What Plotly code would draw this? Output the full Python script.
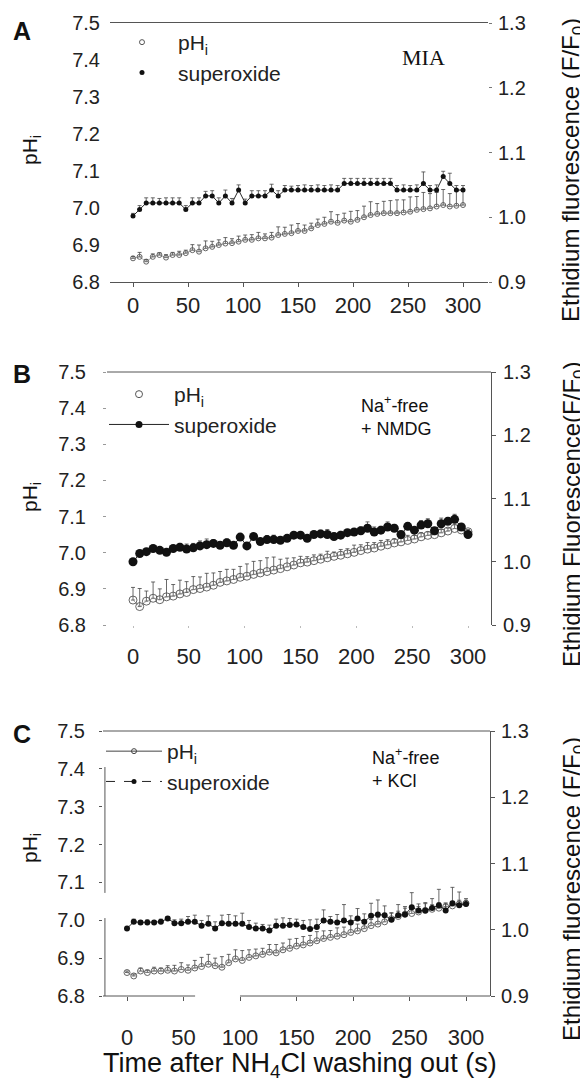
import plotly.graph_objects as go

# ---------------- data ----------------
T = [0, 6, 12, 18, 24, 30, 36, 42, 48, 54, 60, 66, 72, 78, 84, 90, 96, 102, 108, 114,
     120, 126, 132, 138, 144, 150, 156, 162, 168, 174, 180, 186, 192, 198, 204, 210,
     216, 222, 228, 234, 240, 246, 252, 258, 264, 270, 276, 282, 288, 294, 300]

X_TICKS = [0, 50, 100, 150, 200, 250, 300]
PH_TICKS = [6.8, 6.9, 7.0, 7.1, 7.2, 7.3, 7.4, 7.5]
F_TICKS = [0.9, 1.0, 1.1, 1.2, 1.3]

# Panel A (MIA)
A_PH = [6.864, 6.868, 6.855, 6.868, 6.873, 6.866, 6.873, 6.873, 6.878, 6.886,
        6.882, 6.891, 6.895, 6.900, 6.904, 6.905, 6.909, 6.914, 6.914, 6.918,
        6.918, 6.920, 6.927, 6.930, 6.932, 6.938, 6.938, 6.945, 6.954, 6.957,
        6.963, 6.960, 6.966, 6.963, 6.968, 6.975, 6.981, 6.984, 6.986, 6.986,
        6.986, 6.988, 6.990, 6.995, 6.997, 6.999, 7.004, 7.008, 7.004, 7.006,
        7.008]
A_PH_ERR = [0.005, 0.012, 0.006, 0.008, 0.006, 0.008, 0.007, 0.010, 0.008, 0.015,
            0.018, 0.020, 0.015, 0.014, 0.016, 0.012, 0.015, 0.013, 0.014, 0.016,
            0.012, 0.014, 0.022, 0.018, 0.022, 0.020, 0.016, 0.014, 0.016, 0.018,
            0.027, 0.022, 0.020, 0.028, 0.025, 0.030, 0.036, 0.028, 0.032, 0.034,
            0.036, 0.034, 0.040, 0.036, 0.045, 0.040, 0.038, 0.042, 0.035, 0.040,
            0.038]
A_SO = [1.002, 1.012, 1.022, 1.022, 1.022, 1.022, 1.022, 1.022, 1.012, 1.022,
        1.022, 1.033, 1.033, 1.022, 1.033, 1.022, 1.042, 1.022, 1.033, 1.033,
        1.033, 1.042, 1.033, 1.042, 1.042, 1.042, 1.042, 1.042, 1.042, 1.042,
        1.042, 1.042, 1.052, 1.052, 1.052, 1.052, 1.052, 1.052, 1.052, 1.052,
        1.042, 1.042, 1.042, 1.042, 1.052, 1.042, 1.042, 1.063, 1.052, 1.042,
        1.042]
A_SO_ERR = [0.004, 0.006, 0.008, 0.008, 0.007, 0.008, 0.008, 0.008, 0.006, 0.008,
            0.008, 0.007, 0.008, 0.008, 0.009, 0.007, 0.008, 0.006, 0.008, 0.008,
            0.008, 0.009, 0.008, 0.007, 0.006, 0.007, 0.008, 0.007, 0.008, 0.007,
            0.008, 0.007, 0.008, 0.008, 0.008, 0.008, 0.008, 0.008, 0.008, 0.008,
            0.007, 0.008, 0.007, 0.008, 0.018, 0.007, 0.008, 0.008, 0.016, 0.007,
            0.007]

# Panel B (Na+-free + NMDG)
B_PH = [6.869, 6.851, 6.866, 6.874, 6.870, 6.878, 6.880, 6.886, 6.890, 6.898,
        6.901, 6.905, 6.910, 6.918, 6.922, 6.926, 6.932, 6.935, 6.940, 6.944,
        6.948, 6.952, 6.956, 6.961, 6.966, 6.972, 6.974, 6.978, 6.982, 6.986,
        6.990, 6.993, 6.997, 7.001, 7.006, 7.010, 7.013, 7.018, 7.022, 7.027,
        7.030, 7.034, 7.038, 7.044, 7.048, 7.050, 7.055, 7.060, 7.067, 7.063,
        7.058]
B_PH_ERR = [0.035, 0.050, 0.028, 0.045, 0.030, 0.048, 0.032, 0.038, 0.030, 0.036,
            0.032, 0.038, 0.034, 0.030, 0.032, 0.028, 0.030, 0.034, 0.036, 0.034,
            0.038, 0.036, 0.026, 0.024, 0.020, 0.018, 0.015, 0.016, 0.014, 0.018,
            0.012, 0.016, 0.014, 0.020, 0.016, 0.018, 0.015, 0.016, 0.014, 0.012,
            0.012, 0.014, 0.010, 0.012, 0.010, 0.012, 0.010, 0.008, 0.012, 0.008,
            0.006]
B_SO = [1.000, 1.013, 1.016, 1.021, 1.018, 1.015, 1.021, 1.023, 1.020, 1.022,
        1.025, 1.027, 1.029, 1.026, 1.030, 1.026, 1.039, 1.025, 1.040, 1.032,
        1.035, 1.035, 1.034, 1.037, 1.042, 1.042, 1.037, 1.043, 1.044, 1.043,
        1.040, 1.042, 1.046, 1.047, 1.049, 1.053, 1.047, 1.050, 1.055, 1.053,
        1.043, 1.056, 1.050, 1.058, 1.060, 1.049, 1.060, 1.064, 1.067, 1.055,
        1.043]
B_SO_ERR = [0.002, 0.003, 0.004, 0.005, 0.004, 0.003, 0.005, 0.006, 0.008, 0.007,
            0.008, 0.009, 0.006, 0.005, 0.006, 0.004, 0.005, 0.004, 0.004, 0.004,
            0.006, 0.007, 0.005, 0.004, 0.004, 0.003, 0.004, 0.005, 0.006, 0.008,
            0.005, 0.006, 0.004, 0.005, 0.006, 0.010, 0.008, 0.006, 0.008, 0.006,
            0.005, 0.006, 0.004, 0.007, 0.008, 0.005, 0.009, 0.006, 0.008, 0.004,
            0.003]

# Panel C (Na+-free + KCl)
C_PH = [6.862, 6.853, 6.866, 6.862, 6.866, 6.866, 6.868, 6.866, 6.870, 6.868,
        6.874, 6.878, 6.884, 6.880, 6.876, 6.888, 6.898, 6.894, 6.902, 6.906,
        6.910, 6.916, 6.914, 6.922, 6.926, 6.932, 6.935, 6.940, 6.946, 6.952,
        6.955, 6.958, 6.962, 6.968, 6.972, 6.978, 6.986, 6.990, 6.996, 7.004,
        7.010, 7.016, 7.018, 7.022, 7.026, 7.029, 7.032, 7.036, 7.038, 7.043,
        7.045]
C_PH_ERR = [0.004, 0.005, 0.008, 0.006, 0.010, 0.008, 0.012, 0.015, 0.018, 0.014,
            0.020, 0.024, 0.026, 0.020, 0.028, 0.022, 0.024, 0.026, 0.020, 0.018,
            0.016, 0.020, 0.022, 0.018, 0.024, 0.020, 0.022, 0.020, 0.024, 0.020,
            0.018, 0.022, 0.020, 0.024, 0.018, 0.020, 0.016, 0.018, 0.020, 0.016,
            0.014, 0.016, 0.012, 0.014, 0.018, 0.012, 0.014, 0.010, 0.012, 0.010,
            0.008]
C_SO = [1.002, 1.012, 1.011, 1.011, 1.011, 1.012, 1.017, 1.010, 1.010, 1.012,
        1.012, 1.006, 1.009, 1.002, 1.010, 1.009, 1.009, 1.009, 1.004, 1.002,
        1.002, 0.999, 1.006, 1.006, 1.007, 1.008, 1.004, 1.001, 1.004, 1.014,
        1.012, 1.011, 1.014, 1.011, 1.017, 1.012, 1.021, 1.023, 1.022, 1.015,
        1.022, 1.023, 1.034, 1.029, 1.029, 1.033, 1.037, 1.029, 1.040, 1.037,
        1.039]
C_SO_ERR = [0.003, 0.004, 0.003, 0.004, 0.003, 0.004, 0.003, 0.005, 0.006, 0.008,
            0.010, 0.008, 0.012, 0.010, 0.012, 0.014, 0.012, 0.016, 0.010, 0.008,
            0.006, 0.008, 0.010, 0.012, 0.010, 0.008, 0.010, 0.014, 0.012, 0.016,
            0.008, 0.012, 0.024, 0.010, 0.015, 0.012, 0.019, 0.022, 0.014, 0.010,
            0.016, 0.012, 0.022, 0.010, 0.012, 0.014, 0.024, 0.010, 0.024, 0.020,
            0.008]

# ---------------- layout helpers ----------------
# the page body keeps the browser's default 8px margin, so the figure is
# sized to the remaining window and positions are given in window pixels.
OFF = 8
W, H = 588 - OFF, 1081 - OFF
FONT = "Liberation Sans, Arial, Helvetica, sans-serif"
SERIF = "Liberation Serif, Times New Roman, serif"
LINE = "#555555"


def px(x):
    return (x - OFF) / W


def py(y):
    return 1 - (y - OFF) / H


fig = go.Figure()


def err(arr):
    return dict(type="data", array=arr, arrayminus=[0] * len(arr), symmetric=False,
                color="#444444", thickness=0.8, width=2)


def add_panel(xa, ya_l, ya_r, ph, ph_err, so, so_err, msize_ph, msize_so):
    fig.add_trace(go.Scatter(
        x=T, y=ph, xaxis=xa, yaxis=ya_l, mode="lines+markers", showlegend=False,
        line=dict(color="#888888", width=0.7),
        marker=dict(symbol="circle-open", size=msize_ph, color="#555555", line=dict(width=0.9)),
        error_y=err(ph_err)))
    fig.add_trace(go.Scatter(
        x=T, y=so, xaxis=xa, yaxis=ya_r, mode="lines+markers", showlegend=False,
        line=dict(color="#111111", width=0.9),
        marker=dict(symbol="circle", size=msize_so, color="#111111"),
        error_y=err(so_err)))


add_panel("x", "y", "y2", A_PH, A_PH_ERR, A_SO, A_SO_ERR, 5, 5)
add_panel("x2", "y3", "y4", B_PH, B_PH_ERR, B_SO, B_SO_ERR, 8, 9)
add_panel("x3", "y5", "y6", C_PH, C_PH_ERR, C_SO, C_SO_ERR, 6, 6)

# legend entries (symbol-only traces)
PH_NAME = "pH<sub>i</sub>"
SO_NAME = "superoxide"
fig.add_trace(go.Scatter(x=[None], y=[None], xaxis="x", yaxis="y", mode="markers", name=PH_NAME,
                         legend="legend", legendgroup="a1",
                         marker=dict(symbol="circle-open", size=5, color="#555555")))
fig.add_trace(go.Scatter(x=[None], y=[None], xaxis="x", yaxis="y", mode="markers", name=SO_NAME,
                         legend="legend", legendgroup="a2",
                         marker=dict(symbol="circle", size=5, color="#111111")))
fig.add_trace(go.Scatter(x=[None], y=[None], xaxis="x2", yaxis="y3", mode="markers", name=PH_NAME,
                         legend="legend2", legendgroup="b1",
                         marker=dict(symbol="circle-open", size=7, color="#555555")))
fig.add_trace(go.Scatter(x=[None], y=[None], xaxis="x2", yaxis="y3", mode="lines+markers", name=SO_NAME,
                         legend="legend2", legendgroup="b2", line=dict(color="#222222", width=1),
                         marker=dict(symbol="circle", size=7, color="#111111")))
fig.add_trace(go.Scatter(x=[None], y=[None], xaxis="x3", yaxis="y5", mode="lines+markers", name=PH_NAME,
                         legend="legend3", legendgroup="c1", line=dict(color="#444444", width=1),
                         marker=dict(symbol="circle-open", size=5, color="#444444")))
fig.add_trace(go.Scatter(x=[None], y=[None], xaxis="x3", yaxis="y5", mode="lines+markers", name=SO_NAME,
                         legend="legend3", legendgroup="c2", line=dict(color="#222222", width=1, dash="dash"),
                         marker=dict(symbol="circle", size=5, color="#111111")))

# panel geometry (window pixels)
PANELS = {
    "A": dict(x0=110, x1=488, y0=23, y1=282, zero=133, pps=1.1),
    "B": dict(x0=107, x1=491, y0=372, y1=625, zero=133, pps=1.1167),
    "C": dict(x0=103, x1=490, y0=731, y1=996, zero=127, pps=1.13),
}


def xrange_for(p):
    return [(p["x0"] - p["zero"]) / p["pps"], (p["x1"] - p["zero"]) / p["pps"]]


XT = dict(size=22, family=FONT, color="#222222")
YT = dict(size=20, family=FONT, color="#222222")

pa, pb, pc = PANELS["A"], PANELS["B"], PANELS["C"]

common_x = dict(tickvals=X_TICKS, showgrid=False, zeroline=False, tickfont=XT, fixedrange=True)
common_yl = dict(tickvals=PH_TICKS, tickformat=".1f", range=[6.8, 7.5], showgrid=False,
                 zeroline=False, tickfont=YT)
common_yr = dict(tickvals=F_TICKS, tickformat=".1f", range=[0.9, 1.3], showgrid=False,
                 zeroline=False, tickfont=YT, side="right")

fig.update_layout(
    width=W, height=H, margin=dict(l=0, r=0, t=0, b=0, autoexpand=False),
    paper_bgcolor="white", plot_bgcolor="white",
    font=dict(family=FONT, color="#222222"),
    # Panel A
    xaxis=dict(domain=[px(pa["x0"]), px(pa["x1"])], anchor="y", range=xrange_for(pa),
               showline=True, mirror=True, linecolor=LINE, linewidth=1,
               ticks="outside", ticklen=4, tickcolor=LINE, ticklabelstandoff=0, **common_x),
    yaxis=dict(domain=[py(pa["y1"]), py(pa["y0"])], anchor="x", showline=False, ticks="",
               ticklabelstandoff=9, **common_yl),
    yaxis2=dict(overlaying="y", anchor="x", showline=False, ticks="outside", ticklen=3,
                tickcolor="#777777", ticklabelstandoff=2, **common_yr),
    # Panel B
    xaxis2=dict(domain=[px(pb["x0"]), px(pb["x1"])], anchor="y3", range=xrange_for(pb),
                showline=False, ticks="outside", ticklen=2, tickcolor="#bbbbbb",
                ticklabelstandoff=10, **common_x),
    yaxis3=dict(domain=[py(pb["y1"]), py(pb["y0"])], anchor="x2", showline=False,
                ticks="outside", ticklen=3, tickcolor="#999999", ticklabelstandoff=13, **common_yl),
    yaxis4=dict(overlaying="y3", anchor="x2", showline=True, linecolor=LINE, linewidth=1,
                ticks="outside", ticklen=4, tickcolor=LINE, ticklabelstandoff=3, **common_yr),
    # Panel C
    xaxis3=dict(domain=[px(pc["x0"]), px(pc["x1"])], anchor="y5", range=xrange_for(pc),
                showline=False, ticks="outside", ticklen=4, tickcolor=LINE,
                ticklabelstandoff=18, **common_x),
    yaxis5=dict(domain=[py(pc["y1"]), py(pc["y0"])], anchor="x3", showline=False,
                ticks="outside", ticklen=3, tickcolor=LINE, ticklabelstandoff=10, **common_yl),
    yaxis6=dict(overlaying="y5", anchor="x3", showline=True, linecolor=LINE, linewidth=1,
                ticks="outside", ticklen=4, tickcolor=LINE, ticklabelstandoff=2, **common_yr),
    legend=dict(x=px(106), y=py(22), xanchor="left", yanchor="top", bgcolor="rgba(0,0,0,0)",
                font=dict(size=21, family=FONT), itemwidth=62, tracegroupgap=9, traceorder="normal"),
    legend2=dict(x=px(104), y=py(374), xanchor="left", yanchor="top", bgcolor="rgba(0,0,0,0)",
                 font=dict(size=21, family=FONT), itemwidth=60, tracegroupgap=2, traceorder="normal"),
    legend3=dict(x=px(101), y=py(731), xanchor="left", yanchor="top", bgcolor="rgba(0,0,0,0)",
                 font=dict(size=21, family=FONT), itemwidth=56, tracegroupgap=9, traceorder="normal"),
)

# frame lines
shapes = [
    dict(type="line", xref="x2 domain", yref="y3 domain", x0=0, x1=1, y0=1, y1=1,
         line=dict(color=LINE, width=1)),
    dict(type="line", xref="x3 domain", yref="y5 domain", x0=0, x1=1, y0=1, y1=1,
         line=dict(color=LINE, width=1)),
    dict(type="line", xref="x3 domain", yref="y5 domain", x0=0.005, x1=0.005, y0=0.864, y1=0.389,
         line=dict(color=LINE, width=1)),
    dict(type="line", xref="x3 domain", yref="y5 domain", x0=0.005, x1=0.005, y0=0.294, y1=0,
         line=dict(color=LINE, width=1)),
    dict(type="line", xref="x3 domain", yref="y5 domain", x0=0, x1=0.238, y0=0, y1=0,
         line=dict(color=LINE, width=1)),
    dict(type="line", xref="x3 domain", yref="y5 domain", x0=0.354, x1=1, y0=0, y1=0,
         line=dict(color=LINE, width=1)),
]
fig.update_layout(shapes=shapes)

ann = []


def text(x, y, s, size, family=FONT, angle=0, xanchor="center", bold=False, align="center"):
    ann.append(dict(x=px(x), y=py(y), xref="paper", yref="paper", text=("<b>%s</b>" % s) if bold else s,
                    showarrow=False, textangle=angle, xanchor=xanchor, yanchor="middle", align=align,
                    font=dict(size=size, family=family, color="#111111")))


# panel letters
text(22, 31, "A", 25, bold=True)
text(22, 374, "B", 25, bold=True)
text(22, 734, "C", 25, bold=True)

# left axis titles
text(31, 150, "pH<sub>i</sub>", 21, angle=-90)
text(31, 497, "pH<sub>i</sub>", 21, angle=-90)
text(31, 848, "pH<sub>i</sub>", 21, angle=-90)

# right axis titles
text(573, 170, "Ethidium fluorescence (F/F<sub>0</sub>)", 24, angle=-90)
text(573, 515, "Ethidium Fluorescence(F/F<sub>0</sub>)", 24, angle=-90)
text(573, 889, "Ethidium fluorescence (F/F<sub>0</sub>)", 24, angle=-90)

# condition labels
text(423, 57, "MIA", 22, family=SERIF)
text(359, 416, "Na<sup>+</sup>-free<br>+ NMDG", 18, xanchor="left", align="left")
text(370, 768, "Na<sup>+</sup>-free<br>+ KCl", 18, xanchor="left", align="left")

# x axis title
text(300, 1065, "Time after NH<sub>4</sub>Cl washing out (s)", 27)

fig.update_layout(annotations=ann)

fig.write_html("out.html")
